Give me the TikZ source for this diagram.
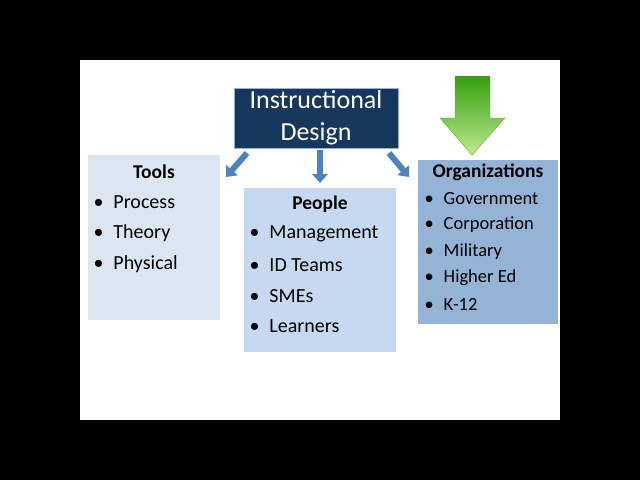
\documentclass[tikz,border=0pt]{standalone}
\usepackage{fontspec}
\setmainfont{Carlito}
\usetikzlibrary{arrows.meta}
\definecolor{navy}{HTML}{17375E}
\definecolor{toolc}{HTML}{DCE6F2}
\definecolor{peoc}{HTML}{C6D9F1}
\definecolor{orgc}{HTML}{95B3D7}
\definecolor{arrc}{HTML}{4F81BD}
\definecolor{grn}{HTML}{7ED321}
\begin{document}
\begin{tikzpicture}[x=1pt,y=-1pt,
  panel/.style={draw=none,anchor=north west,inner sep=0},
  head/.style={font=\fontsize{19.5}{22}\selectfont\bfseries,anchor=center},
  item/.style={font=\fontsize{20}{22}\selectfont,anchor=west},
  oitem/.style={font=\fontsize{18.5}{21}\selectfont,anchor=west},
  barr/.style={draw=arrc,line width=6pt,-{Triangle[width=15pt,length=9pt]}}]
\useasboundingbox (0,0) rectangle (640,480);
\fill[black] (0,0) rectangle (640,480);
\fill[white] (80,60) rectangle (560,420);
\node[panel,fill=toolc,minimum width=132,minimum height=165] (tools) at (88,155) {};
\node[panel,fill=peoc,minimum width=152,minimum height=164] (people) at (244,188) {};
\node[panel,fill=orgc,minimum width=140,minimum height=164] (org) at (418,160) {};
\node[draw=arrc!60,line width=1pt,fill=navy,text=white,minimum width=164,minimum height=60,align=center,inner sep=0pt,
  font=\fontsize{26}{32}\selectfont] (title) at (316,118) {Instructional\\[0pt]Design\rule[-5pt]{0pt}{1pt}};
\node[head] (th) at (154,172) {Tools};
\foreach \t/\y [count=\i] in {Process/202,Theory/233,Physical/264}
  \node[item] (t\i) at (90,\y) {\textbullet\hspace{10pt}\t};
\node[head] (ph) at (320,204) {People};
\foreach \t/\y [count=\i] in {Management/234,ID Teams/265,SMEs/296,Learners/326}
  \node[item] (p\i) at (246,\y) {\textbullet\hspace{10pt}\t};
\node[head] (oh) at (488,172) {Organizations};
\foreach \t/\y [count=\i] in {Government/199,Corporation/225,Military/252,Higher Ed/278,K-12/304}
  \node[oitem] (o\i) at (421,\y) {\textbullet\hspace{10pt}\t};
\coordinate (a1s) at (247,153); \coordinate (a1e) at (226,177);
\coordinate (a2s) at (320,150); \coordinate (a2e) at (320,183);
\coordinate (a3s) at (389,153); \coordinate (a3e) at (409,177);
\draw[barr] (a1s) -- (a1e);
\draw[barr] (a2s) -- (a2e);
\draw[barr] (a3s) -- (a3e);
\shade[top color=grn!60!green!70!black,bottom color=grn!50!white,draw=grn!80!black,line width=0.4pt]
  (455,76) -- (490,76) -- (490,118) -- (505,118) -- (472,155) -- (440,118) -- (455,118) -- cycle;
\end{tikzpicture}
\end{document}
